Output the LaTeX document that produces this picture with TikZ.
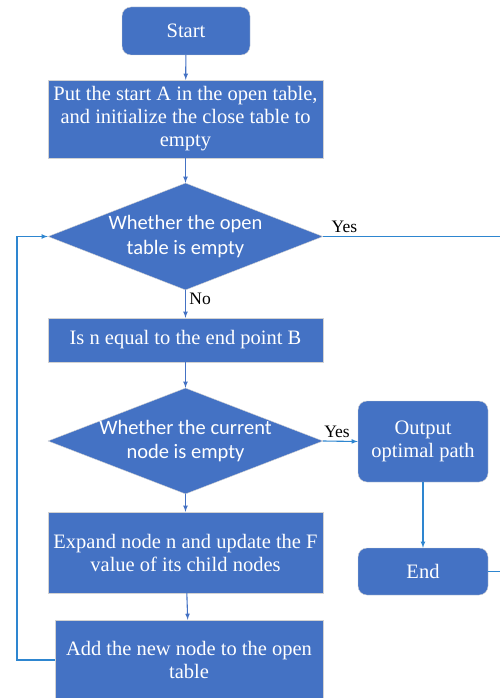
\documentclass[tikz,border=0pt]{standalone}
\usepackage{fontspec}
\setmainfont{Liberation Serif}
\newfontfamily\diafont{Carlito}
\usetikzlibrary{arrows,shapes.geometric}
\definecolor{boxblue}{RGB}{68,114,196}
\definecolor{lineblue}{RGB}{46,134,208}

\begin{document}
\begin{tikzpicture}[x=1pt,y=-1pt]
    \tikzset{box/.style = {shape=rectangle, draw=gray!35, fill=boxblue, text=white, inner sep=0pt, align=center, font=\fontsize{20.5}{23}\selectfont}}
    \tikzset{rbox/.style = {box, rounded corners=9pt}}
    \tikzset{decide/.style = {shape=diamond, draw=gray!35, fill=boxblue, text=white, inner sep=-9pt, aspect=2.57, align=center, font=\diafont\fontsize{20.5}{24.5}\selectfont}}
    \tikzset{flow/.style = {draw=boxblue, line width=1.1pt, -latex}}
    \tikzset{link/.style = {draw=lineblue, line width=1.1pt}}
    \tikzset{lab/.style = {font=\fontsize{17.5}{20}\selectfont, text=black}}

    \clip (0,0) rectangle (500,698);

    % vertices
    \node[rbox, minimum width=128pt, minimum height=48pt] (start) at (186,31) {Start};
    \node[box, minimum width=275pt, minimum height=78pt] (put) at (185.5,119) {Put the start A in the open table,\\and initialize the close table to\\empty};
    \node[decide, minimum width=275pt, minimum height=107pt] (open) at (185.5,236.5) {Whether the open\\table is empty};
    \node[box, minimum width=275pt, minimum height=44pt] (isn) at (185.5,340) {Is n equal to the end point B};
    \node[decide, minimum width=275pt, minimum height=106pt] (cur) at (185.5,441) {Whether the current\\node is empty};
    \node[box, minimum width=275pt, minimum height=81pt] (expand) at (185.5,552.5) {Expand node n and update the F\\value of its child nodes};
    \node[box, minimum width=268pt, minimum height=80pt] (add) at (189,660) {Add the new node to the open\\table};
    \node[rbox, minimum width=130pt, minimum height=81pt] (out) at (423,441.5) {Output\\optimal path};
    \node[rbox, minimum width=130pt, minimum height=47pt] (fin) at (423,571.5) {End};

    \coordinate (yesend) at (500,236.5);
    \coordinate (finend) at (500,571.5);
    \coordinate (loop) at (17,660);

    % edges
    \draw [flow] (start) -- (put);
    \draw [flow] (put) -- (open);
    \draw [flow] (open) -- node[lab, pos=0.3, right]{No} (isn);
    \draw [flow] (isn) -- (cur);
    \draw [flow] (cur) -- (expand);
    \draw [flow] (expand) -- (add);
    \draw [link] (open.east) -- node[lab, pos=0.12, above]{Yes} (yesend);
    \draw [link, -latex] (cur.east) -- node[lab, pos=0.4, above]{Yes} (out.west);
    \draw [link, -latex] (out) -- (fin);
    \draw [link] (fin.east) -- (finend);
    \draw [link, -latex] (add.west) -- (loop) |- (open.west);
\end{tikzpicture}
\end{document}
